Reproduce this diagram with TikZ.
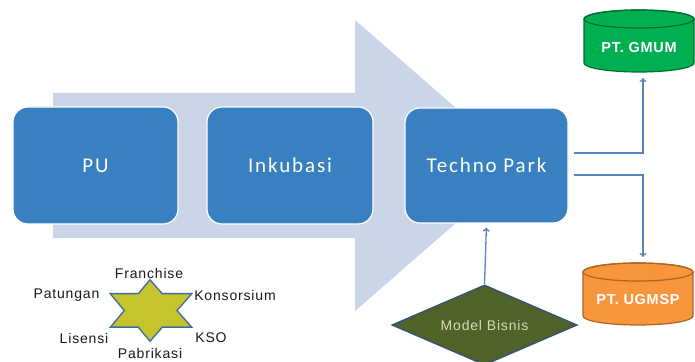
\documentclass[tikz,border=0pt]{standalone}
\usepackage{fontspec}
\setmainfont{Liberation Sans}
\newfontfamily\stagefont[LetterSpace=9]{Carlito}
\newfontfamily\labelfont[LetterSpace=6]{Liberation Sans}
\newfontfamily\cylfont[LetterSpace=5]{Liberation Sans}
\usetikzlibrary{shapes.geometric,arrows.meta,calc}

\definecolor{arrowbg}{RGB}{203,213,232}
\definecolor{stageblue}{RGB}{56,128,192}
\definecolor{linkblue}{RGB}{90,130,190}
\definecolor{gmumgreen}{RGB}{0,176,80}
\definecolor{gmumedge}{RGB}{0,110,50}
\definecolor{ugmorange}{RGB}{247,150,60}
\definecolor{ugmedge}{RGB}{175,100,30}
\definecolor{starfill}{RGB}{198,196,44}
\definecolor{staredge}{RGB}{60,108,165}
\definecolor{modelfill}{RGB}{79,98,40}
\definecolor{modeledge}{RGB}{55,85,115}
\definecolor{modeltext}{RGB}{218,218,185}

\tikzset{
  stage/.style={draw=white, line width=1.2pt, fill=stageblue, rounded corners=15pt,
    text=white, font=\stagefont\fontsize{21}{25}\selectfont, inner sep=0pt},
  conn/.style={draw=linkblue, line width=1.3pt, -{To[length=4pt,width=7pt]}},
  cyltext/.style={text=white, font=\cylfont\bfseries\fontsize{14.5}{17}\selectfont, inner sep=0pt},
  formlabel/.style={text=black!90, font=\labelfont\fontsize{14}{16}\selectfont, inner sep=0pt},
  staroutline/.style={draw=staredge, line width=3pt, line join=miter},
}

\begin{document}
\begin{tikzpicture}[x=1pt,y=1pt]
\useasboundingbox (0,0) rectangle (695,361);

% broad background arrow
\fill[arrowbg] (53,268) -- (355,268) -- (355,341) -- (522,195.5) -- (355,50)
  -- (355,123) -- (53,123) -- cycle;

% development stages
\node[stage, minimum width=165pt, minimum height=117pt] (pu) at (95.5,195.5) {PU};
\node[stage, minimum width=166pt, minimum height=117pt] (ink) at (290,195.5) {Inkubasi};
\node[stage, minimum width=163pt, minimum height=115pt] (tp) at (486.5,195.5) {Techno Park};

% PT. GMUM cylinder
\filldraw[fill=gmumgreen, draw=gmumedge, line width=1.2pt]
  (584,342) -- (584,298) arc[start angle=180, end angle=360, x radius=55, y radius=9]
  -- (694,342) arc[start angle=0, end angle=180, x radius=55, y radius=9] -- cycle;
\draw[gmumedge, line width=1.2pt] (639,342) ellipse[x radius=55, y radius=9];
\node[cyltext] (gmum) at (639,313) {PT. GMUM};
\coordinate (gmumbase) at (643,289);

% PT. UGMSP cylinder
\filldraw[fill=ugmorange, draw=ugmedge, line width=1.2pt]
  (583,89) -- (583,45) arc[start angle=180, end angle=360, x radius=55, y radius=9]
  -- (693,89) arc[start angle=0, end angle=180, x radius=55, y radius=9] -- cycle;
\draw[ugmedge, line width=1.2pt] (638,89) ellipse[x radius=55, y radius=9];
\node[cyltext] (ugmsp) at (638,61) {PT. UGMSP};
\coordinate (ugmsptop) at (643,98);

% links from Techno Park to the companies
\draw[conn, shorten >=6pt] ($(tp.east)+(5,12.5)$) -| (gmumbase);
\draw[conn, shorten >=6pt] ($(tp.east)+(5,-9.5)$) -| (ugmsptop);

% business model
\node[diamond, aspect=2.3125, minimum width=185pt, minimum height=80pt, inner sep=0pt,
  fill=modelfill, draw=modeledge, line width=1.5pt, text=modeltext,
  font=\labelfont\fontsize{14}{16}\selectfont] (mb) at (484.5,36) {Model Bisnis};
\draw[conn, shorten >=4pt] (mb.north) -- (tp.south);

% six-pointed star of cooperation forms
\path[staroutline] (150,80) -- (112,34.5) -- (190,34.5) -- cycle;
\path[staroutline] (150,21) -- (112,66.5) -- (190,66.5) -- cycle;
\fill[starfill] (150,80) -- (112,34.5) -- (190,34.5) -- cycle;
\fill[starfill] (150,21) -- (112,66.5) -- (190,66.5) -- cycle;

\node[formlabel] (franchise) at (149,88) {Franchise};
\node[formlabel] (patungan) at (66.5,66) {Patungan};
\node[formlabel] (konsorsium) at (235,66) {Konsorsium};
\node[formlabel] (lisensi) at (84,23) {Lisensi};
\node[formlabel] (kso) at (211,23) {KSO};
\node[formlabel] (pabrikasi) at (150,8) {Pabrikasi};
\end{tikzpicture}
\end{document}
